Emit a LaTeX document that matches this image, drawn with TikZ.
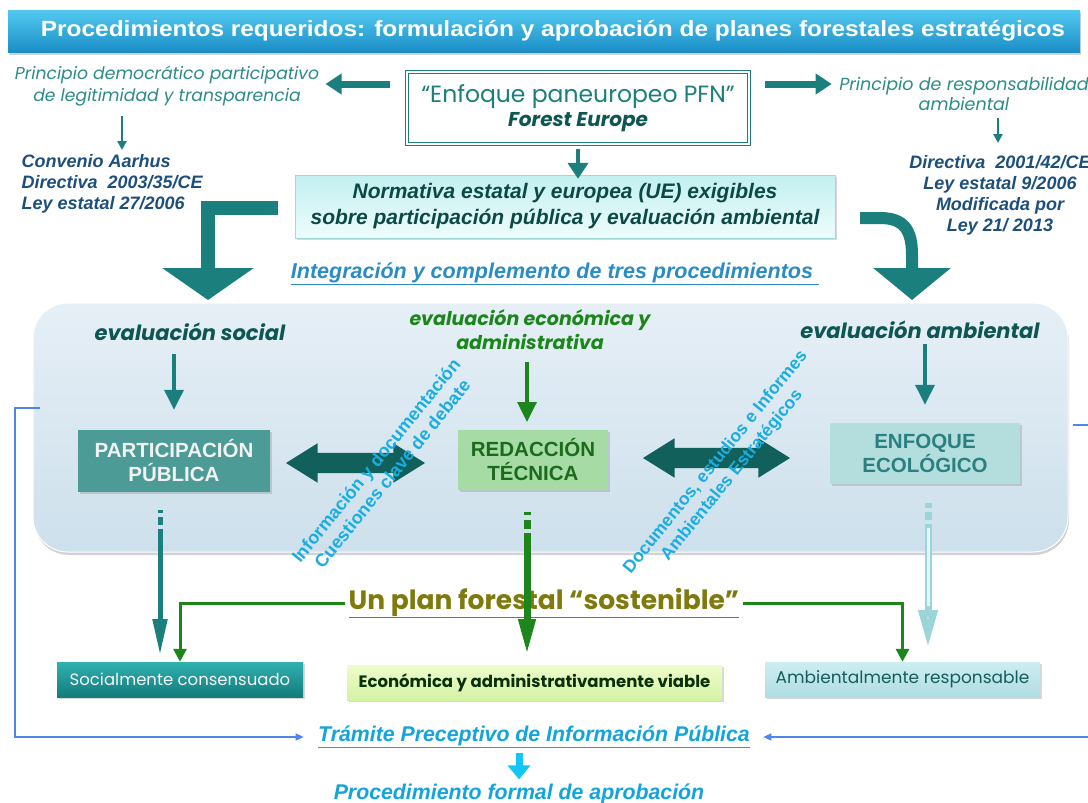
\documentclass[tikz,border=0pt]{standalone}
\usepackage{fontspec}
\setmainfont{Liberation Sans}
\newfontfamily\comic{Poppins}
\newfontfamily\titlefont[FakeStretch=1.11]{Liberation Sans}
\usetikzlibrary{arrows.meta,shapes.arrows,shadows,calc}
\definecolor{teal1}{HTML}{1A7F7D}
\definecolor{tealtxt}{HTML}{2B8C89}
\definecolor{darkteal}{HTML}{0E5652}
\definecolor{navy}{HTML}{1D4F7C}
\definecolor{gr}{HTML}{1C861C}
\definecolor{olive}{HTML}{7E7A0C}
\definecolor{cyantxt}{HTML}{1AAEE0}
\definecolor{blueint}{HTML}{2A8CC6}
\definecolor{trblue}{HTML}{12A4DC}
\definecolor{fb}{HTML}{4F86EE}
\definecolor{tbtop}{HTML}{52C9F0}
\definecolor{tbbot}{HTML}{1B8EC6}
\definecolor{normtop}{HTML}{C2F0F0}
\definecolor{normbot}{HTML}{EEFCFC}
\definecolor{paneltop}{HTML}{E6EFF6}
\definecolor{panelbot}{HTML}{CDE0EC}
\definecolor{ppfill}{HTML}{4C9B97}
\definecolor{rtfill}{HTML}{A6DBA6}
\definecolor{rttext}{HTML}{1C6B1C}
\definecolor{eefill}{HTML}{B4DEDE}
\definecolor{eetext}{HTML}{2A8080}
\definecolor{dteal}{HTML}{11605B}
\definecolor{hollow}{HTML}{9AD6D9}
\definecolor{hollowin}{HTML}{E4F6F7}
\definecolor{soctop}{HTML}{30B0B0}
\definecolor{socbot}{HTML}{137C7C}
\definecolor{ecvtop}{HTML}{EEFCCC}
\definecolor{ecvbot}{HTML}{D4F2A4}
\definecolor{ecvtext}{HTML}{0B300B}
\definecolor{ambtop}{HTML}{CDEEF0}
\definecolor{ambbot}{HTML}{B0DDE2}
\definecolor{ambtext}{HTML}{155D5D}
\definecolor{cyanarr}{HTML}{12C6F6}
\begin{document}
\begin{tikzpicture}[x=1pt,y=-1pt,
  tarrow/.style={draw=teal1, line width=7, -{Triangle[length=16,width=20]}},
  sarrow/.style={draw=teal1, line width=2.5, -{Triangle[length=9,width=9]}},
  marrow/.style={draw=teal1, line width=3.5, -{Triangle[length=20,width=19]}},
  garrow/.style={draw=gr, line width=3, -{Triangle[length=13,width=13]}},
  fbline/.style={draw=fb, line width=1.5, -{Triangle[length=8,width=7]}},
  evalstyle/.style={font=\comic\bfseries\itshape\fontsize{21}{24}\selectfont, align=center},
  box/.style={align=center, font=\bfseries\fontsize{20.5}{24}\selectfont, inner sep=0, drop shadow={opacity=0.3,shadow xshift=2pt,shadow yshift=-2pt}},
  bbox/.style={font=\comic\fontsize{16.5}{18}\selectfont, inner sep=0, drop shadow={opacity=0.3,shadow xshift=2pt,shadow yshift=-2pt}},
  darr/.style={double arrow, fill=dteal, inner xsep=0, inner ysep=10, double arrow head extend=9.5, double arrow tip angle=64},
  diag/.style={text=cyantxt, font=\bfseries\fontsize{18}{21}\selectfont, align=center, rotate=51},
  dirtext/.style={text=navy, font=\bfseries\itshape\fontsize{18}{21}\selectfont}
]
\clip (0,0) rectangle (1088,803);
\fill[white] (0,0) rectangle (1088,803);

% title
\node[top color=tbtop, bottom color=tbbot, minimum width=1072, minimum height=42, inner sep=0,
  drop shadow={opacity=0.35,shadow xshift=1pt,shadow yshift=-3pt}, text=white,
  font=\titlefont\bfseries\fontsize{22}{24}\selectfont] (title) at (544,31)
  {\hspace*{18pt}Procedimientos requeridos: formulación y aprobación de planes forestales estratégicos};

% top row
\node[font=\comic\itshape\fontsize{17.2}{22}\selectfont, text=tealtxt, align=center] (princL) at (167,86)
  {Principio democrático participativo\\de legitimidad y transparencia};
\node[draw=teal1, double=white, double distance=2.2, line width=1.1, fill=white, minimum width=342, minimum height=72, align=center] (enf) at (578,108)
  {{\comic\fontsize{23.5}{26}\selectfont\color{teal1}“Enfoque paneuropeo PFN”}\\[3pt]{\comic\bfseries\itshape\fontsize{20}{22}\selectfont\color{darkteal}Forest Europe}};
\node[font=\comic\itshape\fontsize{17.5}{20}\selectfont, text=tealtxt, align=center] (princR) at (964,94)
  {Principio de responsabilidad\\ambiental};

\coordinate (aLs) at (390,84);
\draw[tarrow, shorten <=16, shorten >=3] (enf.west |- aLs) -- (princL.east |- aLs);
\draw[tarrow, shorten <=15, shorten >=4] (enf.east |- aLs) -- (princR.west |- aLs);

\node[dirtext, anchor=north west, align=left] (conv) at (18,151)
  {Convenio Aarhus\\Directiva\ \ 2003/35/CE\\Ley estatal 27/2006};
\node[dirtext, align=center] (dirR) at (1000,195)
  {Directiva\ \ 2001/42/CE\\Ley estatal 9/2006\\Modificada por\\Ley 21/ 2013};

\coordinate (cL) at (122,150);
\draw[sarrow, shorten <=6] (princL.south -| cL) -- (cL);
\coordinate (cR) at (998,143);
\draw[sarrow, shorten <=4] (princR.south -| cR) -- (cR);

% normativa
\node[top color=normtop, bottom color=normbot, draw=normtop!80!teal1, line width=0.4, minimum width=540, minimum height=63, align=center,
  drop shadow={opacity=0.3,shadow xshift=2pt,shadow yshift=-2pt},
  text=darkteal!85!black, font=\bfseries\itshape\fontsize{21}{26}\selectfont] (norm) at (565,206.5)
  {Normativa estatal y europea (UE) exigibles\\sobre participación pública y evaluación ambiental};
\draw[draw=teal1, line width=4, -{Triangle[length=16,width=20]}, shorten <=4, shorten >=-4] (enf.south) -- (enf.south |- norm.north);

% big arrows
\coordinate (lS) at (278,208);
\coordinate (tL) at (208,300);
\draw[draw=teal1, line width=14, -{Triangle[length=32,width=90]}, shorten <=17] (norm.west |- lS) -| (tL);
\coordinate (rS) at (860,218);
\coordinate (tR) at (912,300);
\draw[draw=teal1, line width=12, -{Triangle[length=32,width=76]}, shorten <=25] (norm.east |- rS) -- (880,218) .. controls (904,218) and (912,230) .. (912,255) -- (tR);

\node[text=blueint, font=\bfseries\itshape\fontsize{21.5}{24}\selectfont] (integ) at (555,274)
  {\underline{Integración y complemento de tres procedimientos\ }};

% panel
\node[rounded corners=35, minimum width=1035, minimum height=249, top color=paneltop, bottom color=panelbot, draw=white, line width=1,
  drop shadow={opacity=0.35,shadow xshift=1pt,shadow yshift=-3pt}] (panel) at (550.5,427.5) {};

\node[evalstyle, text=darkteal] (evS) at (190,332) {evaluación social};
\node[evalstyle, text=gr, font=\comic\bfseries\itshape\fontsize{19}{24}\selectfont] (evE) at (530,330) {evaluación económica y\\administrativa};
\node[evalstyle, text=darkteal] (evA) at (920,330) {evaluación ambiental};

\node[box, fill=ppfill, text=white!90!gray, minimum width=192, minimum height=62] (pp) at (174,461) {PARTICIPACIÓN\\PÚBLICA};
\node[box, fill=rtfill, text=rttext, minimum width=150, minimum height=60] (rt) at (533,460) {REDACCIÓN\\TÉCNICA};
\node[box, fill=eefill, text=eetext, minimum width=190, minimum height=61] (ee) at (925,453.5) {ENFOQUE\\ECOLÓGICO};

\draw[marrow, shorten <=10, shorten >=20] (evS.south -| pp.north) -- (pp.north);
\coordinate (gx) at (527,422);
\draw[marrow, draw=gr, shorten <=8] (evE.south -| gx) -- (gx);
\draw[marrow, shorten <=2, shorten >=18] (evA.south -| ee.north) -- (ee.north);

\node[darr, minimum height=139] (da1) at (355.5,463) {};
\node[darr, minimum height=147] (da2) at (716.5,458) {};

\node[diag] (dt1) at (384,467) {Información y documentación\\Cuestiones clave de debate};
\node[diag, font=\bfseries\fontsize{17.5}{21}\selectfont] (dt2) at (724,469) {Documentos, estudios e Informes\\Ambientales Estratégicos};

% bottom boxes
\node[bbox, top color=soctop, bottom color=socbot, text=white!92!gray, minimum width=246, minimum height=35] (soc) at (180,679.5) {Socialmente consensuado};
\node[bbox, top color=ecvtop, bottom color=ecvbot, text=ecvtext, font=\comic\bfseries\fontsize{16.5}{18}\selectfont, minimum width=375, minimum height=35] (ecv) at (534.5,682.5) {Económica y administrativamente viable};
\node[bbox, top color=ambtop, bottom color=ambbot, text=ambtext, font=\comic\fontsize{17}{18}\selectfont, minimum width=275, minimum height=35] (amb) at (902.5,679.5) {Ambientalmente responsable};

\node[text=olive, font=\comic\bfseries\fontsize{26.5}{30}\selectfont] (plan) at (544,603) {\underline{Un plan forestal “sostenible”}};

% vertical arrows below panel
\coordinate (x160) at (160,655);
\draw[draw=teal1, line width=5, dash pattern=on 3pt off 4pt on 8pt off 4pt on 400pt, -{Triangle[length=36,width=14]}, shorten <=18] (pp.south -| x160) -- (x160);
\coordinate (x527) at (527,655);
\draw[draw=gr, line width=7, dash pattern=on 3pt off 5pt on 9pt off 4pt on 400pt, -{Triangle[length=36,width=16]}, shorten <=22] (rt.south -| x527) -- (x527);
\coordinate (x928) at (928,648);
\draw[draw=hollow, line width=7, dash pattern=on 5pt off 4pt on 8pt off 4pt on 400pt, -{Triangle[length=38,width=18,fill=hollowin]}, shorten <=19] (ee.south -| x928) -- (x928);
\draw[draw=hollowin, line width=3] ([yshift=-44]ee.south -| x928) -- ([yshift=42]x928);

\draw[garrow] (plan.west) -| (soc.north);
\draw[garrow] (plan.east) -| (amb.north);

% bottom
\node[text=trblue, font=\bfseries\itshape\fontsize{21.3}{24}\selectfont] (tram) at (534,737) {\underline{Trámite Preceptivo de Información Pública}};
\node[text=trblue, font=\bfseries\itshape\fontsize{21.3}{24}\selectfont] (proc) at (519,795) {\underline{Procedimiento formal de aprobación}};
\draw[draw=cyanarr, line width=7, -{Triangle[length=14,width=22]}, shorten <=1, shorten >=1] (tram.south -| proc.north) -- (proc.north);

\coordinate (fbL) at (40,408);
\draw[fbline, shorten >=11] (fbL) -- ++(-25,0) |- (tram.west);
\coordinate (fbR) at (1073,425);
\draw[fbline, shorten >=10] (fbR) -- ++(25,0) |- (tram.east);
\end{tikzpicture}
\end{document}
